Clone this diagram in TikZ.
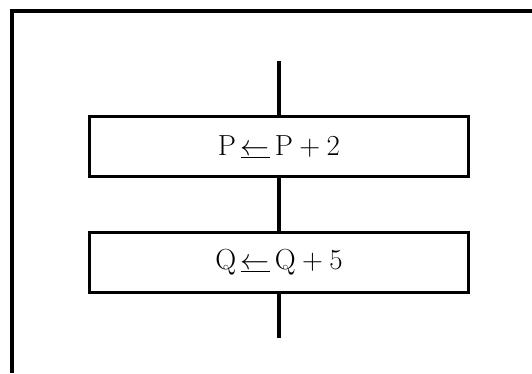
\RequirePackage{fix-cm}
\documentclass[tikz,border=0pt]{standalone}
\begin{document}
\begin{tikzpicture}[x=1pt,y=-1pt,
  frameline/.style={line width=3.2pt},
  stepbox/.style={draw,line width=3.2pt,minimum width=379pt,minimum height=60pt,inner sep=0pt,
    font=\fontsize{29}{34}\selectfont},
  flow/.style={line width=3.2pt}]
\useasboundingbox (0,0) rectangle (532,373);
\coordinate (fa) at (12,373);
\coordinate (fb) at (12,11);
\coordinate (fc) at (532,11);
\draw[frameline] (fa) -- (fb) -- (fc);
\node[stepbox] (b1) at (279,146.5) {$\mathrm{P}\,\underline{\leftarrow}\,\mathrm{P}+2$};
\node[stepbox] (b2) at (279,262.5) {$\mathrm{Q}\,\underline{\leftarrow}\,\mathrm{Q}+5$};
\coordinate (top) at (279,61);
\coordinate (bot) at (279,338);
\draw[flow] (top) -- (b1.north);
\draw[flow] (b1.south) -- (b2.north);
\draw[flow] (b2.south) -- (bot);
\end{tikzpicture}
\end{document}
